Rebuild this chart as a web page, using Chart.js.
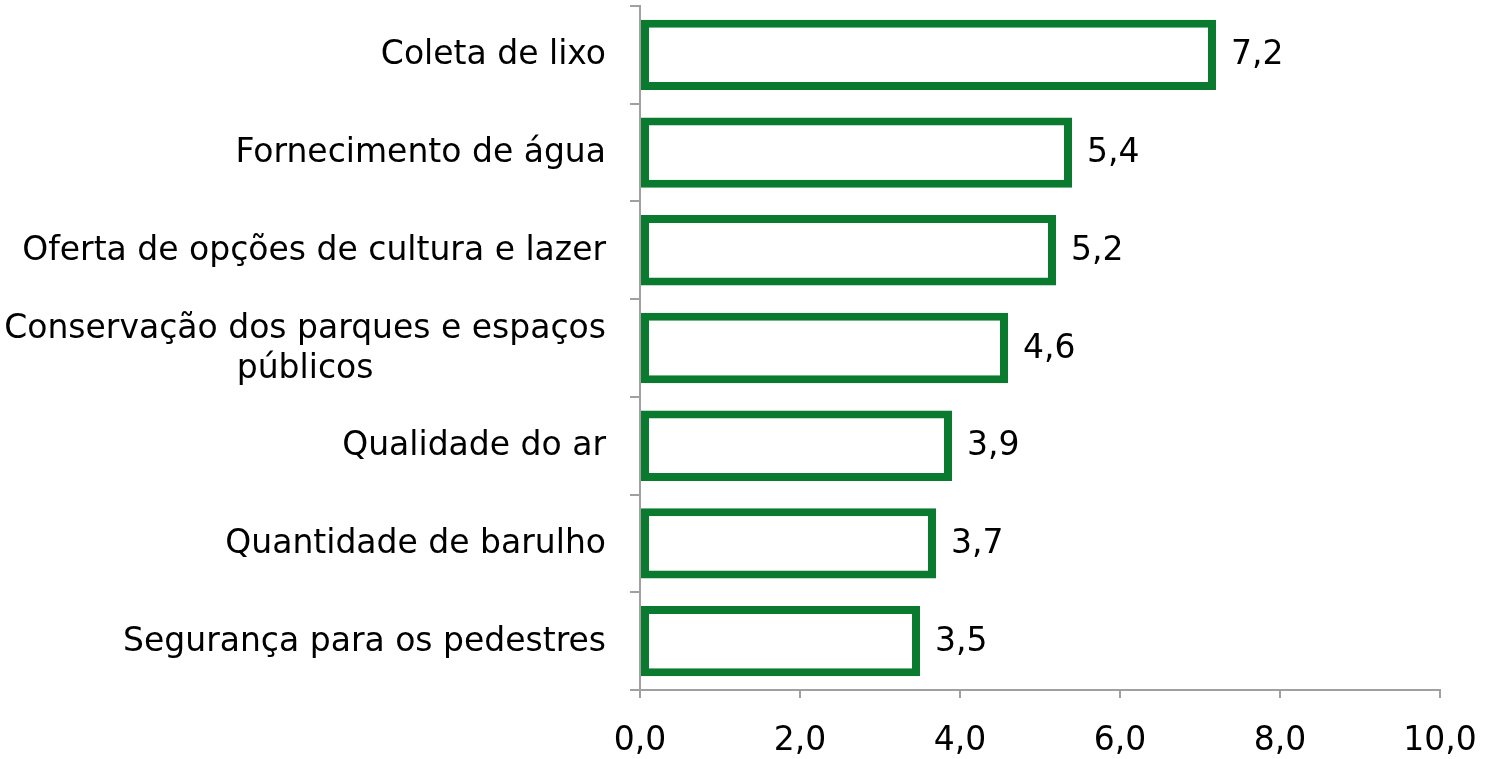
<!DOCTYPE html>
<html>
<head>
<meta charset="utf-8">
<script src="https://cdn.jsdelivr.net/npm/chart.js@4"></script>
<style>
html,body{margin:0;padding:0;background:#fff;}
#wrap{width:1485px;height:759px;position:relative;}
</style>
</head>
<body>
<div id="wrap"><canvas id="c"></canvas></div>
<script>
const categories = [
  ["Coleta de lixo"],
  ["Fornecimento de água"],
  ["Oferta de opções de cultura e lazer"],
  ["Conservação dos parques e espaços", "públicos"],
  ["Qualidade do ar"],
  ["Quantidade de barulho"],
  ["Segurança para os pedestres"]
];
const values = [7.2, 5.4, 5.2, 4.6, 3.9, 3.7, 3.5];
const xTicks = [0, 2, 4, 6, 8, 10];

const FONT = "'DejaVu Sans', sans-serif";
const FS = 33;
const GREEN = '#0A7A2E';
const AXIS = '#A0A0A0';
const fmt = v => Number(v).toFixed(1).replace('.', ',');

const labelPlugin = {
  id: 'labels',
  afterDraw(chart) {
    const ctx = chart.ctx;
    const y = chart.scales.y;
    const meta = chart.getDatasetMeta(0);
    ctx.save();
    ctx.font = FS + 'px ' + FONT;
    ctx.fillStyle = '#000';
    ctx.textBaseline = 'middle';
    const xr = chart.chartArea.left - 34;
    categories.forEach((lines, i) => {
      const cy = y.getPixelForTick(i) + 1;
      const lh = 40;
      if (lines.length === 1) {
        ctx.textAlign = 'right';
        ctx.fillText(lines[0], xr, cy);
      } else {
        const w0 = ctx.measureText(lines[0]).width;
        const cx = xr - w0 / 2;
        ctx.textAlign = 'center';
        lines.forEach((t, k) => {
          ctx.fillText(t, cx, cy + (k - (lines.length - 1) / 2) * lh);
        });
      }
    });
    ctx.textAlign = 'left';
    meta.data.forEach((bar, i) => {
      ctx.fillText(fmt(values[i]), bar.x + 15, bar.y + 1);
    });
    ctx.restore();
  }
};

new Chart(document.getElementById('c'), {
  type: 'bar',
  data: {
    labels: categories.map(l => l.join(' ')),
    datasets: [{
      data: values,
      backgroundColor: '#FFFFFF',
      borderColor: GREEN,
      borderWidth: 8,
      borderSkipped: false,
      barPercentage: 0.72,
      categoryPercentage: 1.0
    }]
  },
  options: {
    indexAxis: 'y',
    responsive: true,
    maintainAspectRatio: false,
    animation: false,
    layout: { padding: { top: 6, right: 45, left: 0, bottom: 0 } },
    plugins: { legend: { display: false }, tooltip: { enabled: false } },
    scales: {
      x: {
        min: 0, max: 10,
        afterBuildTicks(s) { s.ticks = xTicks.map(v => ({ value: v })); },
        afterFit(s) { s.height = 69; s.paddingRight = 0; s.paddingLeft = 0; },
        ticks: {
          callback: v => fmt(v),
          font: { family: FONT, size: FS },
          color: '#000',
          padding: 24,
          maxRotation: 0
        },
        grid: { drawOnChartArea: false, drawTicks: true, tickLength: 8, color: AXIS, lineWidth: 2 },
        border: { color: AXIS, width: 2 }
      },
      y: {
        afterFit(s) { s.width = 640; s.paddingTop = 0; s.paddingBottom = 0; },
        ticks: { display: false },
        grid: { offset: true, drawOnChartArea: false, drawTicks: true, tickLength: 10, color: AXIS, lineWidth: 2 },
        border: { color: AXIS, width: 2 }
      }
    }
  },
  plugins: [labelPlugin]
});
</script>
</body>
</html>
